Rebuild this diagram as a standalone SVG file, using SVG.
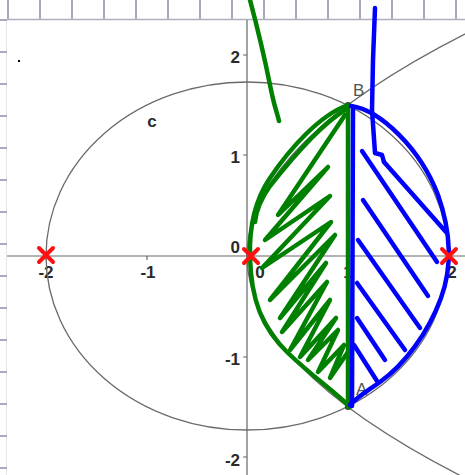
<svg xmlns="http://www.w3.org/2000/svg" width="465" height="475" viewBox="0 0 465 475">
<style>
.rt{stroke:#a9a9bb;stroke-width:2;fill:none}
.ax{stroke:#666;stroke-width:1.2;fill:none}
.cv{stroke:#6a6a6a;stroke-width:1.3;fill:none}
.lb{font-family:"Liberation Sans",Arial,sans-serif;font-size:17px;font-weight:bold;fill:#2a2a2a}
.pl{font-family:"Liberation Sans",Arial,sans-serif;font-size:17px;fill:#555}
.g{stroke:#008000;stroke-width:4.5;fill:none;stroke-linecap:round;stroke-linejoin:round}
.b{stroke:#0000ff;stroke-width:4.5;fill:none;stroke-linecap:round;stroke-linejoin:round}
.x{stroke:#ff1010;stroke-width:4;stroke-linecap:round}
</style>
<rect width="465" height="475" fill="#fff"/>
<g id="ruler">
<line x1="6.5" y1="19" x2="6.5" y2="475" stroke="#e6e6ee" stroke-width="1"/>
<line x1="7" y1="19.5" x2="465" y2="19.5" stroke="#b0b0c0" stroke-width="1.5"/>
<path class="rt" d="M8,0V19M40,0V19M72,0V19M104,0V19M136,0V19M168,0V19M200,0V19M232,0V19M264,0V19M296,0V19M328,0V19M360,0V19M392,0V19M424,0V19M456,0V19"/>
<path class="rt" d="M0,20H7M0,52H7M0,84H7M0,116H7M0,148H7M0,180H7M0,212H7M0,244H7M0,276H7M0,308H7M0,340H7M0,372H7M0,404H7M0,436H7M0,468H7"/>
</g>
<rect x="18" y="60" width="2" height="2" fill="#000"/>
<g id="axes">
<line class="ax" x1="7" y1="256" x2="465" y2="256"/>
<line class="ax" x1="247" y1="20" x2="247" y2="475"/>
<path class="ax" d="M243,55H247M243,155H247M243,357H247M243,457H247M46,256V260M147,256V260M348,256V260M448,256V260"/>
<text class="lb" x="240" y="63" text-anchor="end">2</text>
<text class="lb" x="240" y="163" text-anchor="end">1</text>
<text class="lb" x="240" y="253" text-anchor="end">0</text>
<text class="lb" x="240" y="365" text-anchor="end">-1</text>
<text class="lb" x="240" y="466" text-anchor="end">-2</text>
<text class="lb" x="46" y="278" text-anchor="middle">-2</text>
<text class="lb" x="148" y="278" text-anchor="middle">-1</text>
<text class="lb" x="260" y="278" text-anchor="middle">0</text>
<text class="lb" x="348" y="278" text-anchor="middle">1</text>
<text class="lb" x="452" y="278" text-anchor="middle">2</text>
</g>
<g id="ellipse-c">
<ellipse class="cv" cx="247" cy="256" rx="201" ry="174"/>
<text class="lb" x="152" y="127" text-anchor="middle" font-size="18">c</text>
</g>
<g id="parabola">
<path class="cv" d="M463.2,477.1 Q16.1,248.5 493.6,19.8"/>
</g>
<g id="point-B">
<circle cx="348" cy="105" r="3" fill="#333"/>
<text class="pl" x="353" y="96">B</text>
</g>
<g id="point-A">
<circle cx="348" cy="407" r="3" fill="#333"/>
<text class="pl" x="356" y="395">A</text>
</g>
<g id="connectors">
<g id="green">
<path class="g" d="M250,0 C258,30 265,60 270,85 S277,112 279,121"/>
<line class="g" x1="348" y1="105" x2="348" y2="407"/>
<path class="g" d="M348,105 C320,115 290,148 270,178 C255,200 249,225 250,257 C251,300 262,328 288,353 C312,376 335,392 350,407"/>
<path class="g" d="M345,110 C322,124 292,158 270,186 C260,200 256,212 255,222"/>
<polyline class="g" points="345,115 278,215 328,167 265,240 330,196 262,268 331,222 270,300 335,235 280,318 326,263 282,332 327,282 290,350 330,300 300,357 336,318 308,360 338,330 318,372 344,345 330,378 348,352"/>
</g>
<g id="blue">
<line class="b" x1="353" y1="107" x2="352" y2="406"/>
<path class="b" d="M351,106 C380,110 420,148 438,195 C451,232 452,268 441,298 C428,333 405,364 380,382 C366,392 356,398 350,405"/>
<polyline class="b" points="375,8 373,60 372,110 375,153 382,155 384,162"/>
<path class="b" d="M362,151L437,262M384,162L446,232M363,200L428,296M358,240L420,328M357,283L405,350M357,318L385,360M354,345L377,381"/>
</g>
</g>
<g id="marks">
<path class="x" d="M39,248L53,262M53,248L39,262"/>
<path class="x" d="M244,249L258,263M258,249L244,263"/>
<path class="x" d="M442,249L456,263M456,249L442,263"/>
</g>
</svg>
